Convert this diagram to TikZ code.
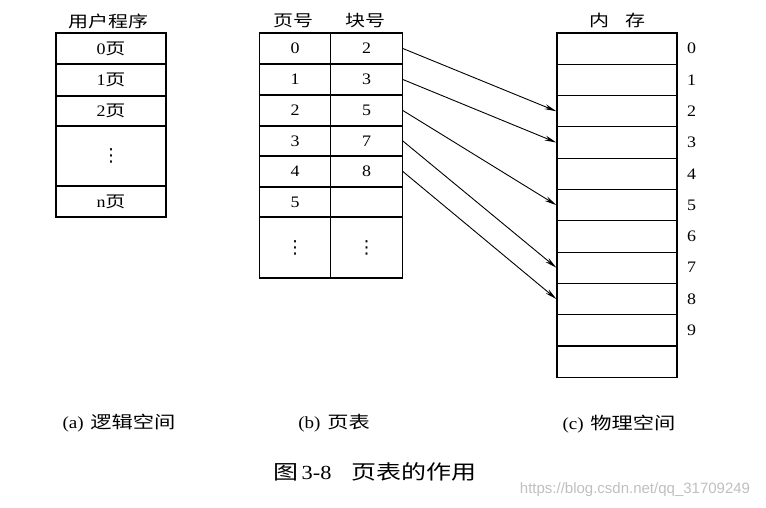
\documentclass[tikz,border=0pt]{standalone}
\usepackage{fontspec}
\setmainfont{Liberation Serif}[FakeStretch=1.12]
\newfontfamily\cjk{Noto Sans CJK SC}[FakeStretch=1.25]
\newfontfamily\wmfont{Liberation Sans}
\newfontfamily\symfont{DejaVu Sans}
\newcommand{\vdotsign}{{\symfont\fontsize{18}{20}\selectfont ⋮}}
\usetikzlibrary{arrows.meta,positioning}
\tikzstyle{cell}  = [draw, line width=1.2pt, inner sep=0pt]
\tikzstyle{pcell} = [cell, minimum width=110pt]
\tikzstyle{tcell} = [cell, minimum width=71.5pt]
\tikzstyle{mcell} = [cell, minimum width=120pt, minimum height=31.3pt]
\tikzstyle{arrow} = [line width=0.9pt, -{Stealth[length=12pt,width=5pt]}]

\begin{document}
\begin{tikzpicture}[x=1pt,y=-1pt,font=\fontsize{16}{18}\selectfont]
		\useasboundingbox (0,0) rectangle (766,508);

		% (a) user program
		\node (ptitle) at (108,21) {\cjk 用户程序};
		\node[pcell, minimum height=31pt] (p0) at (111,48.5) {0\cjk 页};
		\node[pcell, minimum height=32pt] (p1) at (111,80) {1\cjk 页};
		\node[pcell, minimum height=30pt] (p2) at (111,111) {2\cjk 页};
		\node[pcell, minimum height=60pt] (p3) at (111,156) {\vdotsign};
		\node[pcell, minimum height=31pt] (pn) at (111,201.5) {n\cjk 页};

		% (b) page table
		\node (ttitle) at (293,21) {\cjk 页号};
		\node (btitle) at (365,21) {\cjk 块号};
		\node[tcell, minimum height=31pt] (t0) at (295,48.5) {0};
		\node[tcell, minimum height=31pt] (t1) at (295,79.5) {1};
		\node[tcell, minimum height=31pt] (t2) at (295,110.5) {2};
		\node[tcell, minimum height=30pt] (t3) at (295,141) {3};
		\node[tcell, minimum height=31pt] (t4) at (295,171.5) {4};
		\node[tcell, minimum height=30pt] (t5) at (295,202) {5};
		\node[tcell, minimum height=61pt] (t6) at (295,247.5) {\vdotsign};
		\node[tcell, minimum height=31pt] (b0) at (366.5,48.5) {2};
		\node[tcell, minimum height=31pt] (b1) at (366.5,79.5) {3};
		\node[tcell, minimum height=31pt] (b2) at (366.5,110.5) {5};
		\node[tcell, minimum height=30pt] (b3) at (366.5,141) {7};
		\node[tcell, minimum height=31pt] (b4) at (366.5,171.5) {8};
		\node[tcell, minimum height=30pt] (b5) at (366.5,202) {};
		\node[tcell, minimum height=61pt] (b6) at (366.5,247.5) {\vdotsign};

		% (c) memory
		\node (mtitle) at (617,20) {\cjk 内\quad 存};
		\node[mcell] (m0) at (617,48.65) {};
		\node[mcell] (m1) at (617,79.95) {};
		\node[mcell] (m2) at (617,111.25) {};
		\node[mcell] (m3) at (617,142.55) {};
		\node[mcell] (m4) at (617,173.85) {};
		\node[mcell] (m5) at (617,205.15) {};
		\node[mcell] (m6) at (617,236.45) {};
		\node[mcell] (m7) at (617,267.75) {};
		\node[mcell] (m8) at (617,299.05) {};
		\node[mcell] (m9) at (617,330.35) {};
		\node[mcell] (m10) at (617,361.65) {};
		\node[right=6pt of m0] (l0) {0};
		\node[right=6pt of m1] (l1) {1};
		\node[right=6pt of m2] (l2) {2};
		\node[right=6pt of m3] (l3) {3};
		\node[right=6pt of m4] (l4) {4};
		\node[right=6pt of m5] (l5) {5};
		\node[right=6pt of m6] (l6) {6};
		\node[right=6pt of m7] (l7) {7};
		\node[right=6pt of m8] (l8) {8};
		\node[right=6pt of m9] (l9) {9};

		% mapping
		\draw[arrow] (b0.east) -- (m2.west);
		\draw[arrow] (b1.east) -- (m3.west);
		\draw[arrow] (b2.east) -- (m5.west);
		\draw[arrow] (b3.east) -- (m7.west);
		\draw[arrow] (b4.east) -- (m8.west);

		% captions
		\node[font=\fontsize{17}{20}\selectfont] (capa) at (119,423) {(a)\hspace{0.4em}{\cjk 逻辑空间}};
		\node[font=\fontsize{17}{20}\selectfont] (capb) at (334,423) {(b)\hspace{0.4em}{\cjk 页表}};
		\node[font=\fontsize{17}{20}\selectfont] (capc) at (619,424) {(c)\hspace{0.4em}{\cjk 物理空间}};
		\node[font=\fontsize{20}{23}\selectfont] (fig) at (375,472) {{\cjk 图}\,3-8\hspace{1em}{\cjk 页表的作用}};
		\node[font=\wmfont\fontsize{15}{18}\selectfont, text=black!25] (wm) at (635,490) {https://blog.csdn.net/qq\_31709249};
	\end{tikzpicture}
\end{document}
